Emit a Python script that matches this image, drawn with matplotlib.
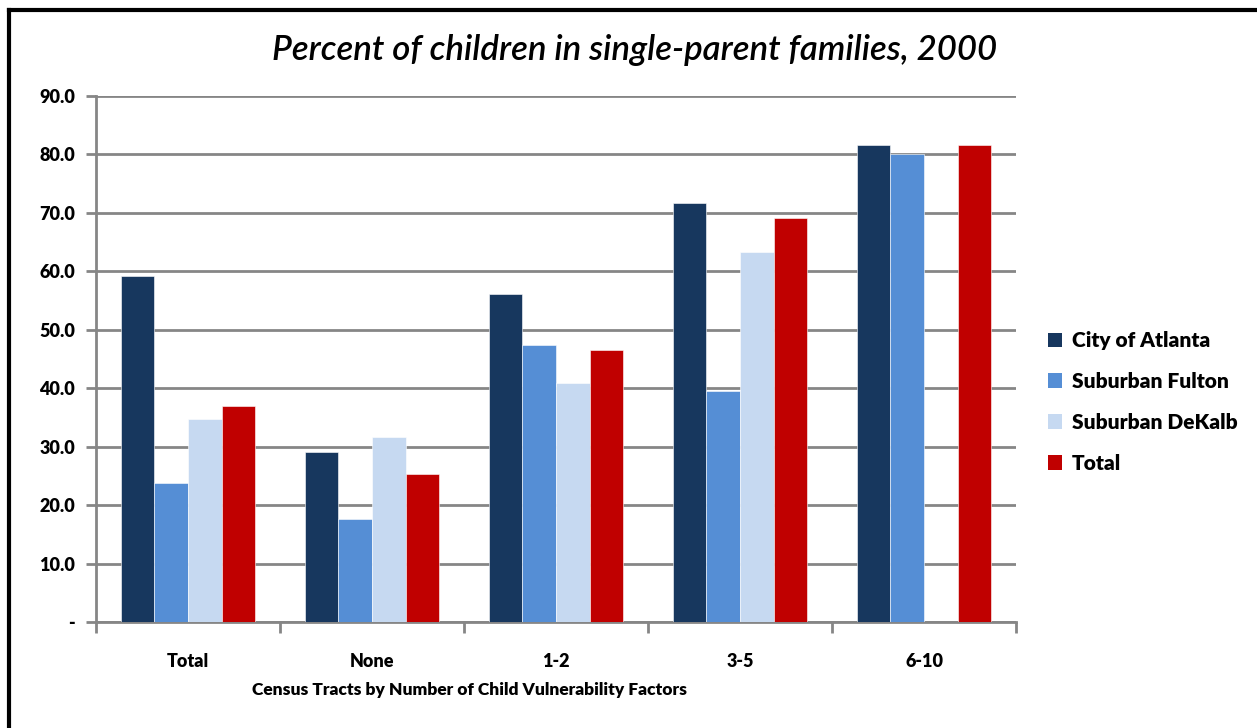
import numpy as np
import matplotlib
matplotlib.use("Agg")
import matplotlib.pyplot as plt
from matplotlib.lines import Line2D
from matplotlib.patches import Patch

categories = ["Total", "None", "1-2", "3-5", "6-10"]
series_names = ["City of Atlanta", "Suburban Fulton", "Suburban DeKalb", "Total"]
city_of_atlanta = [59.2, 29.1, 56.1, 71.7, 81.6]
suburban_fulton = [23.7, 17.6, 47.4, 39.5, 80.0]
suburban_dekalb = [34.8, 31.6, 40.9, 63.3, np.nan]
total = [37.0, 25.4, 46.5, 69.1, 81.6]
y_ticks = [0, 10, 20, 30, 40, 50, 60, 70, 80, 90]
y_tick_labels = ["-", "10.0", "20.0", "30.0", "40.0", "50.0", "60.0", "70.0", "80.0", "90.0"]

colors = ["#17375E", "#558ED5", "#C6D9F1", "#C00000"]
series = [city_of_atlanta, suburban_fulton, suburban_dekalb, total]

plt.rcParams["font.family"] = ["Lato", "DejaVu Sans"]

fig = plt.figure(figsize=(12.57, 7.28), dpi=100)
ax = fig.add_axes([96 / 1257, 1 - 622 / 728, (1016 - 96) / 1257, (622 - 96) / 728])

centers = np.arange(len(categories)) + 0.5
width = 0.183
for k, (vals, col) in enumerate(zip(series, colors)):
    offs = (k - 1.5) * width
    ax.bar(centers + offs, vals, width=width, color=col, zorder=3,
           edgecolor="white", linewidth=0.4)

grid_col = "#868686"
ax.set_xlim(0, len(categories))
ax.set_ylim(0, 90)
ax.set_yticks(y_ticks)
ax.set_yticklabels(y_tick_labels, fontsize=13, fontweight="heavy")
ax.yaxis.grid(True, color=grid_col, linewidth=2, zorder=0)
ax.set_axisbelow(True)

ax.set_xticks(np.arange(len(categories) + 1))
ax.set_xticklabels([])
ax.set_xticks(centers, minor=True)
ax.set_xticklabels(categories, minor=True, fontsize=13, fontweight="heavy")
ax.tick_params(axis="x", which="major", direction="out", length=8, width=2, color=grid_col)
ax.tick_params(axis="x", which="minor", length=0, pad=22)
ax.tick_params(axis="y", direction="out", length=7, width=2, color=grid_col, pad=8)

for s in ["top", "right"]:
    ax.spines[s].set_visible(False)
for s in ["left", "bottom"]:
    ax.spines[s].set_color(grid_col)
    ax.spines[s].set_linewidth(2)

fig.text(635 / 1257, 1 - 50 / 728, "Percent of children in single-parent families, 2000",
         ha="center", va="center", fontsize=25, style="italic", fontweight="semibold")
fig.text(470 / 1257, 1 - 690 / 728, "Census Tracts by Number of Child Vulnerability Factors",
         ha="center", va="center", fontsize=12.5, fontweight="heavy")

handles = [Patch(facecolor=c, edgecolor="none") for c in colors]
fig.legend(handles, series_names, loc="center left",
           bbox_to_anchor=(1029 / 1257, 1 - 402 / 728), frameon=False,
           prop={"size": 15, "weight": "heavy"}, handlelength=0.7, handleheight=0.7,
           handletextpad=0.45, labelspacing=1.05)

# frame edges along the top and left of the canvas
fig.add_artist(Line2D([9 / 1257, 9 / 1257], [0, 1 - 10 / 728], transform=fig.transFigure,
                      color="black", linewidth=3))
fig.add_artist(Line2D([9 / 1257, 1], [1 - 10 / 728, 1 - 10 / 728], transform=fig.transFigure,
                      color="black", linewidth=3))

fig.savefig("out.png", dpi=100)
